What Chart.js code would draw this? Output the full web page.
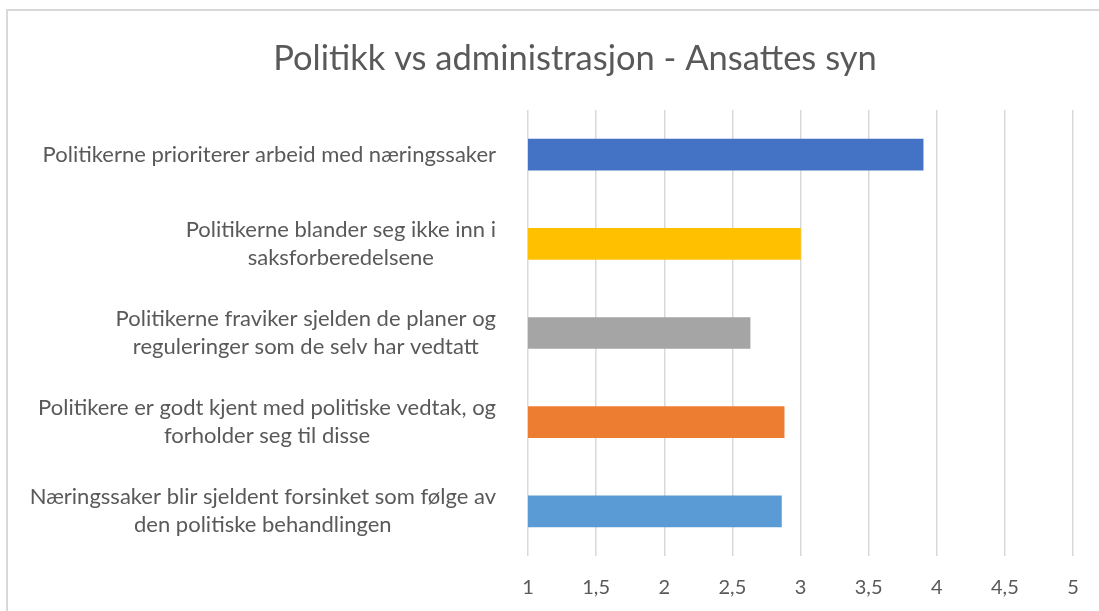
<!DOCTYPE html>
<html>
<head>
<meta charset="utf-8">
<script src="https://cdn.jsdelivr.net/npm/chart.js@4.4.1/dist/chart.umd.min.js"></script>
<style>
  html, body { margin: 0; padding: 0; background: #ffffff; overflow: hidden; width: 1099px; height: 611px; }
  #frame { position: absolute; left: 6px; top: 9px; width: 1400px; height: 900px; border: 2px solid #d9d9d9; box-sizing: border-box; }
  #wrap { position: absolute; left: 0; top: 0; width: 1150px; height: 622px; }
  canvas { display: block; }
</style>
</head>
<body>
<div id="frame"></div>
<div id="wrap"><canvas id="c" width="1150" height="622"></canvas></div>
<script>
const chartTitle = 'Politikk vs administrasjon - Ansattes syn';
const categories = [
  ['Politikerne prioriterer arbeid med næringssaker'],
  ['Politikerne blander seg ikke inn i', 'saksforberedelsene'],
  ['Politikerne fraviker sjelden de planer og', 'reguleringer som de selv har vedtatt'],
  ['Politikere er godt kjent med politiske vedtak, og', 'forholder seg til disse'],
  ['Næringssaker blir sjeldent forsinket som følge av', 'den politiske behandlingen']
];
const values = [3.90, 3.00, 2.63, 2.88, 2.86];
const barColors = ['#4472C4', '#FFC000', '#A5A5A5', '#ED7D31', '#5B9BD5'];
const axisMin = 1;
const axisMax = 5;
const axisStep = 0.5;

const FONT = 'Lato, "Open Sans", sans-serif';
const TEXT = '#595959';

const textPlugin = {
  id: 'textPlugin',
  afterDraw(chart) {
    const ctx = chart.ctx;
    const y = chart.scales.y;
    const rightEdge = chart.chartArea.left - 32;
    const lineH = 28;
    ctx.save();
    // title
    ctx.font = '34.5px ' + FONT;
    ctx.fillStyle = TEXT;
    ctx.textAlign = 'center';
    ctx.textBaseline = 'alphabetic';
    ctx.fillText(chartTitle, 575, 70);
    // category labels: lines centred on each other, block right-aligned
    ctx.font = '22px ' + FONT;
    ctx.textBaseline = 'middle';
    chart.data.labels.forEach((lines, i) => {
      const cy = y.getPixelForTick(i);
      let maxW = 0;
      lines.forEach(l => { maxW = Math.max(maxW, ctx.measureText(l).width); });
      const cx = rightEdge - maxW / 2;
      const startY = cy - (lines.length - 1) * lineH / 2;
      lines.forEach((l, k) => ctx.fillText(l, cx, startY + k * lineH));
    });
    ctx.restore();
  }
};

new Chart(document.getElementById('c'), {
  type: 'bar',
  data: {
    labels: categories,
    datasets: [{
      data: values,
      backgroundColor: barColors,
      borderWidth: 0,
      barThickness: 31
    }]
  },
  options: {
    indexAxis: 'y',
    responsive: false,
    animation: false,
    layout: { padding: { left: 528, right: 77, top: 110, bottom: 2 } },
    plugins: {
      legend: { display: false },
      tooltip: { enabled: false },
      title: { display: false }
    },
    scales: {
      x: {
        min: axisMin,
        max: axisMax,
        border: { display: false },
        grid: { color: '#d9d9d9', lineWidth: 1.5, drawTicks: false },
        ticks: {
          stepSize: axisStep,
          color: TEXT,
          padding: 20,
          maxRotation: 0,
          font: { family: FONT, size: 20 },
          callback: v => String(v).replace('.', ',')
        }
      },
      y: {
        grid: { display: false },
        border: { display: false },
        ticks: { display: false },
        afterFit: s => { s.width = 0; }
      }
    }
  },
  plugins: [textPlugin]
});
</script>
</body>
</html>
